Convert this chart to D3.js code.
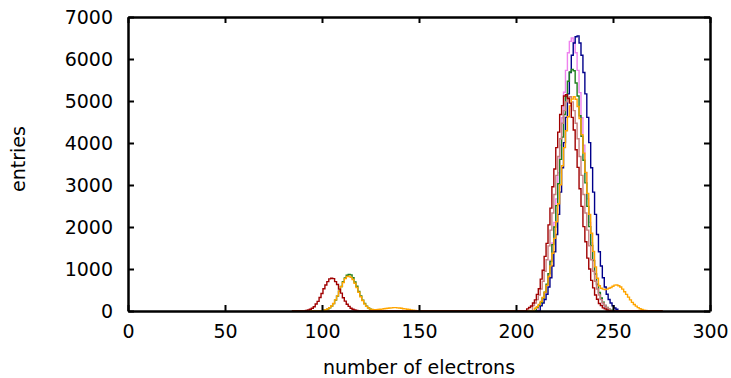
<!DOCTYPE html>
<html>
<head>
<meta charset="utf-8">
<script src="https://cdn.jsdelivr.net/npm/d3@7"></script>
<style>
	body { margin: 0; background: #fff; }
	text { font-family: "DejaVu Sans", sans-serif; }
</style>
</head>
<body>
<svg id="chart" width="731" height="378"></svg>
<script>
// histogram contents, one entry per unit bin
var redLowStart = 92,
	redLow = [15,25,40,65,100,165,230,320,415,530,620,700,765,780,770,700,630,520,425,315,235,160,110,65,40,25,12];
var redMainStart = 206,
	redMain = [50,85,120,190,265,395,530,760,970,1300,1610,2050,2450,2960,3380,3890,4260,4680,4890,5120,5150,5060,4950,4610,4310,3840,3420,2910,2490,2010,1650,1260,1000,730,550,380,280,180,130,75,50,25,10];
var rosyMainStart = 209,
	rosyMain = [130,190,270,380,525,710,945,1220,1550,1925,2335,2775,3230,3680,4100,4470,4770,4980,5085,5100,4980,4770,4470,4100,3680,3230,2775,2335,1925,1550,1220,945,710,525,380,270,190,130,80,40];
var greenLowStart = 101,
	greenLow = [20,30,45,75,115,175,260,355,470,585,700,785,850,870,860,790,690,590,465,360,255,180,115,75,45,25,12];
var greenMainStart = 211,
	greenMain = [80,135,200,310,450,640,890,1180,1580,2000,2510,3030,3610,4140,4680,5100,5470,5690,5750,5720,5430,5120,4650,4160,3590,3050,2490,2010,1560,1200,880,640,440,310,210,130,85,40,20];
var orangeLowStart = 101,
	orangeLow = [15,30,50,80,120,180,265,360,470,580,680,770,820,830,800,750,660,560,445,340,250,170,110,70,45,35,30,30,35,40,45,55,60,65,70,75,80,80,75,70,65,55,50,40,35,25,20,15,10,8];
var orangeMainStart = 210,
	orangeMain = [65,100,155,225,320,450,610,820,1075,1375,1730,2125,2555,3005,3460,3890,4290,4625,4885,5045,5100,
		5040,4870,4580,4200,3760,3300,2800,2300,1850,1420,1050,780,600,540,520,510,520,540,560,590,615,620,600,570,520,460,395,330,265,205,155,115,80,55,35,22,12,5];
var violetMainStart = 212,
	violetMain = [110,190,290,430,620,880,1210,1620,2110,2670,3290,3950,4600,5210,5730,6150,6420,6500,6400,6150,5730,5200,4600,3950,3290,2670,2110,1620,1210,880,620,430,290,190,110,60,30];
var blueMainStart = 213,
	blueMain = [125,190,275,400,570,790,1070,1410,1820,2300,2830,3410,4010,4610,5170,5680,6090,6380,6530,6550,6380,6090,5680,5170,4610,4010,3410,2830,2300,1820,1410,1070,790,570,400,275,190,125,70,40];

var xTicks = [0,50,100,150,200,250,300],
	yTicks = [0,1000,2000,3000,4000,5000,6000,7000];

var series = [
	{color: "#ee82ee", parts: [[violetMainStart, violetMain]]},
	{color: "#00008b", parts: [[blueMainStart, blueMain]]},
	{color: "#1f7f1f", parts: [[greenLowStart, greenLow], [greenMainStart, greenMain]]},
	{color: "#c88080", parts: [[rosyMainStart, rosyMain]]},
	{color: "#ffa500", parts: [[orangeLowStart, orangeLow], [orangeMainStart, orangeMain]]},
	{color: "#a00000", parts: [[redLowStart, redLow], [redMainStart, redMain]]}
];

var svg = d3.select("#chart"),
	margin = {top: 17, right: 21, bottom: 67, left: 128},
	width = +svg.attr("width") - margin.left - margin.right,
	height = +svg.attr("height") - margin.top - margin.bottom;

var x = d3.scaleLinear().domain([0, 300]).range([margin.left, margin.left + width]);
var y = d3.scaleLinear().domain([0, 7000]).range([margin.top + height, margin.top]);

function bins(parts) {
	var m = new Map();
	parts.forEach(p => p[1].forEach((v, i) => m.set(p[0] + i, v)));
	return d3.range(85, 277).map(b => ({bin: b, value: m.get(b) || 0}));
}

var line = d3.line()
	.curve(d3.curveStepAfter)
	.x(d => x(d.bin - 0.5))
	.y(d => y(d.value));

svg.append("g")
	.selectAll("path")
	.data(series)
	.enter().append("path")
		.attr("fill", "none")
		.attr("stroke", d => d.color)
		.attr("stroke-width", 1.4)
		.attr("d", d => line(bins(d.parts)));

var fmt = d3.format("d");
var axes = svg.append("g");

axes.append("g")
	.attr("transform", "translate(0," + (margin.top + height) + ")")
	.call(d3.axisBottom(x).tickValues(xTicks).tickFormat(fmt).tickSizeInner(-6).tickSizeOuter(0).tickPadding(14));
axes.append("g")
	.attr("transform", "translate(0," + margin.top + ")")
	.call(d3.axisTop(x).tickValues(xTicks).tickSizeInner(-6).tickSizeOuter(0).tickFormat(""));
axes.append("g")
	.attr("transform", "translate(" + margin.left + ",0)")
	.call(d3.axisLeft(y).tickValues(yTicks).tickFormat(fmt).tickSizeInner(-6).tickSizeOuter(0).tickPadding(15));
axes.append("g")
	.attr("transform", "translate(" + (margin.left + width) + ",0)")
	.call(d3.axisRight(y).tickValues(yTicks).tickSizeInner(-6).tickSizeOuter(0).tickFormat(""));

axes.selectAll("g").attr("font-size", 19).attr("font-family", "DejaVu Sans, sans-serif");
axes.selectAll(".domain").attr("stroke-width", 2.5);
axes.selectAll(".tick line").attr("stroke-width", 2);
axes.selectAll("text").attr("fill", "#000");

svg.append("text")
	.attr("x", margin.left + width / 2)
	.attr("y", 374)
	.attr("text-anchor", "middle")
	.attr("font-size", 19)
	.text("number of electrons");

svg.append("text")
	.attr("transform", "translate(25,159) rotate(-90)")
	.attr("text-anchor", "middle")
	.attr("font-size", 19)
	.text("entries");
</script>
</body>
</html>
